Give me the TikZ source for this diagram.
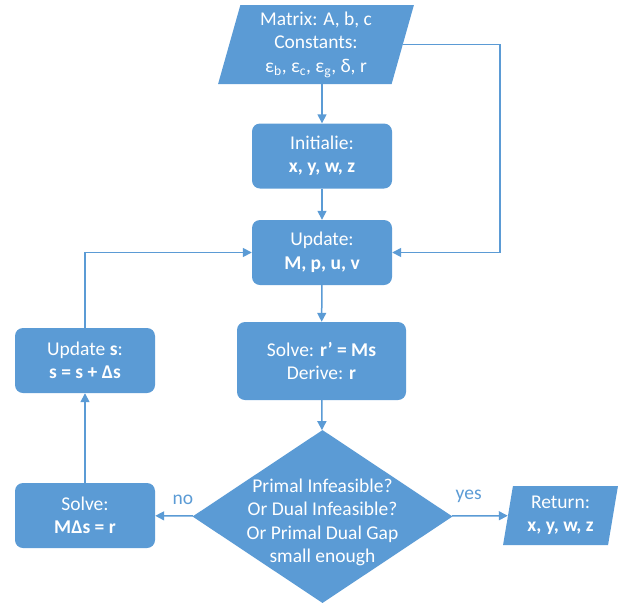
\documentclass[tikz,border=0pt]{standalone}
\usepackage{fontspec}
\setmainfont{Carlito}
\usetikzlibrary{shapes.geometric, arrows.meta}
\definecolor{officeblue}{HTML}{5B9BD5}

\begin{document}
\begin{tikzpicture}[
		% Pixel-like units, y pointing down
		x=1pt,
		y=-1pt,
		font=\fontsize{19.5}{23.5}\selectfont,
		every node/.style={text=white, align=center},
		proc/.style={rounded corners=8pt, fill=officeblue, minimum width=140pt, minimum height=65pt, inner sep=0pt},
		io/.style={trapezium, trapezium left angle=76, trapezium right angle=104, trapezium stretches=true, fill=officeblue, inner sep=0pt},
		decision/.style={diamond, fill=officeblue, inner sep=0pt, minimum width=260pt, minimum height=173pt},
		flow/.style={draw=officeblue, line width=1.5pt, -{Triangle[length=9pt, width=9pt]}},
		tag/.style={text=officeblue}
		]
		
		\useasboundingbox (0,0) rectangle (628,606);
		
		% ==========================================
		% 1. Main column
		% ==========================================
		\node[io, minimum width=196pt, minimum height=79pt] (input) at (316,44.5)
		{Matrix: A, b, c\\Constants:\\ε\textsubscript{b}, ε\textsubscript{c}, ε\textsubscript{g}, δ, r};
		
		\node[proc] (init) at (322,156) {Initialie:\\\textbf{x, y, w, z}};
		\node[proc] (update) at (322,252.5) {Update:\\\textbf{M, p, u, v}};
		\node[proc, minimum width=169pt, minimum height=78pt] (solve) at (321.5,361)
		{Solve: \textbf{r’ = Ms}\\Derive: \textbf{r}};
		
		% Decision
		\node[decision] (check) at (322.5,516.5) {};
		\node (checktext) at (322.5,522.5)
		{Primal Infeasible?\\Or Dual Infeasible?\\Or Primal Dual Gap\\small enough};
		
		\node[io, trapezium left angle=80, trapezium right angle=100, minimum width=115pt, minimum height=59pt] (return) at (560.5,515.5)
		{Return:\\\textbf{x, y, w, z}};
		
		% ==========================================
		% 2. Left loop
		% ==========================================
		\node[proc] (solvem) at (85,515.5) {Solve:\\\textbf{MΔs = r}};
		\node[proc] (updates) at (85,360.5) {Update \textbf{s}:\\\textbf{s = s + Δs}};
		
		% ==========================================
		% 3. Connectors
		% ==========================================
		\coordinate (rightrail) at (500,0);
		
		\draw[flow] (init.north |- input.south) -- (init.north);
		\draw[flow] (init) -- (update);
		\draw[flow] (update) -- (solve);
		\draw[flow] (solve) -- (check);
		\draw[flow] (input.east) -- (input.east -| rightrail) |- (update.east);
		
		\draw[flow] (check) -- node[tag, pos=0.27, above=7pt] {no} (solvem);
		\draw[flow] (check) -- node[tag, pos=0.3, above=9pt] {yes} (return);
		\draw[flow] (solvem) -- (updates);
		\draw[flow] (updates.north) |- (update.west);
		
	\end{tikzpicture}
\end{document}
